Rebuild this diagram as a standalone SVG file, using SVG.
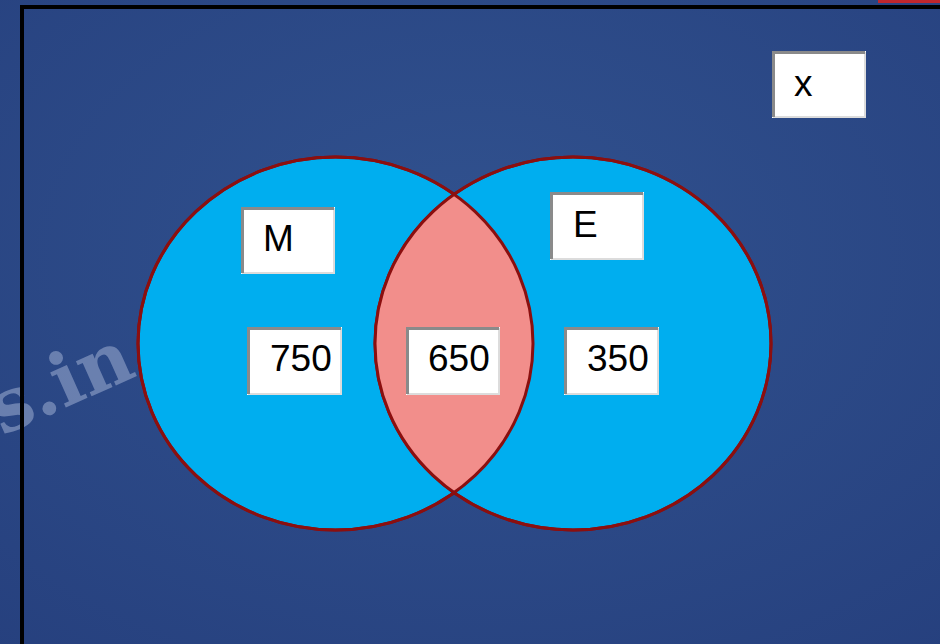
<svg xmlns="http://www.w3.org/2000/svg" width="940" height="644" viewBox="0 0 940 644">
<defs>
<style>
.box{fill:#ffffff}
.bd{fill:none;stroke:#8a8a8a;stroke-width:3}
.bl{fill:none;stroke:#dcdcdc;stroke-width:2}
.t{font-family:"Liberation Sans",Arial,sans-serif;font-size:37px;fill:#000}
.set{fill:#00aeef;stroke:#8b0f0f;stroke-width:3}
</style>
<radialGradient id="bg" cx="0.5" cy="0.4" r="0.8">
<stop offset="0" stop-color="#31528f"/>
<stop offset="1" stop-color="#26407e"/>
</radialGradient>
<clipPath id="lc"><ellipse cx="335.5" cy="343.5" rx="197.5" ry="186.5"/></clipPath>
</defs>
<rect width="940" height="644" fill="url(#bg)"/>
<text x="2" y="436" transform="rotate(-24 2 436)" font-family="'DejaVu Serif',serif" font-size="74" font-weight="bold" fill="#9eaed2" opacity="0.55">s.in</text>
<rect x="878" y="0" width="62" height="3" fill="#c0262d"/>
<path d="M22 644 V7 H940" fill="none" stroke="#000" stroke-width="4"/>
<g id="set-M"><ellipse class="set" cx="335.5" cy="343.5" rx="197.5" ry="186.5"/></g>
<g id="set-E"><ellipse class="set" cx="573" cy="343.5" rx="198" ry="186.5"/></g>
<g id="intersection">
<ellipse cx="573" cy="343.5" rx="198" ry="186.5" fill="#f28e8b" clip-path="url(#lc)"/>
<ellipse cx="573" cy="343.5" rx="198" ry="186.5" fill="none" stroke="#8b0f0f" stroke-width="3"/>
<ellipse cx="335.5" cy="343.5" rx="197.5" ry="186.5" fill="none" stroke="#8b0f0f" stroke-width="3"/>
</g>
<g id="label-x">
<rect class="box" x="772" y="51" width="94" height="67"/>
<path class="bl" d="M865 52 V117 H773"/><path class="bd" d="M773.5 117 V52.5 H865"/>
<text class="t" x="794" y="96">x</text>
</g>
<g id="label-M">
<rect class="box" x="241" y="207" width="94" height="67"/>
<path class="bl" d="M334 208 V273 H242"/><path class="bd" d="M242.5 273 V208.5 H334"/>
<text class="t" x="263" y="251">M</text>
</g>
<g id="label-E">
<rect class="box" x="550" y="192" width="94" height="68"/>
<path class="bl" d="M643 193 V259 H551"/><path class="bd" d="M551.5 259 V193.5 H643"/>
<text class="t" x="573" y="237">E</text>
</g>
<g id="value-M">
<rect class="box" x="247" y="327" width="95" height="68"/>
<path class="bl" d="M341 328 V394 H248"/><path class="bd" d="M248.5 394 V328.5 H341"/>
<text class="t" x="270" y="371">750</text>
</g>
<g id="value-ME">
<rect class="box" x="406" y="327" width="94" height="68"/>
<path class="bl" d="M499 328 V394 H407"/><path class="bd" d="M407.5 394 V328.5 H499"/>
<text class="t" x="428" y="371">650</text>
</g>
<g id="value-E">
<rect class="box" x="564" y="327" width="95" height="68"/>
<path class="bl" d="M658 328 V394 H565"/><path class="bd" d="M565.5 394 V328.5 H658"/>
<text class="t" x="587" y="371">350</text>
</g>
<g id="connectors"></g>
</svg>
